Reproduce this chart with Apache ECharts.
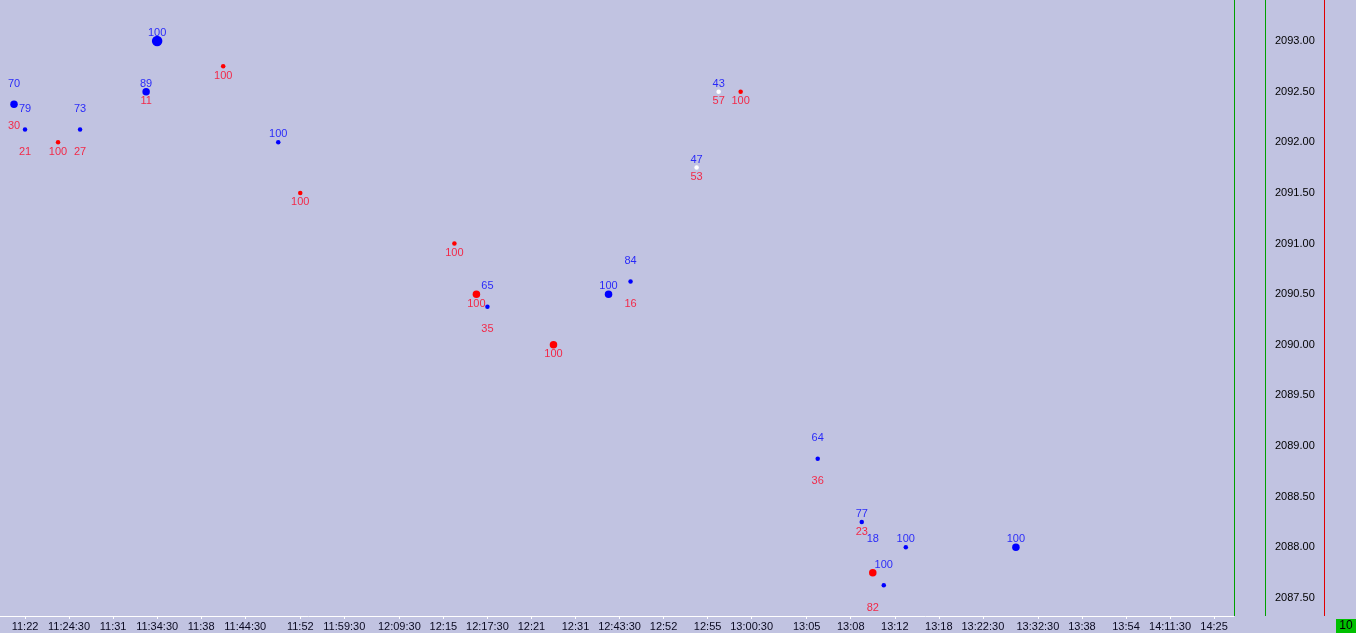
<!DOCTYPE html>
<html lang="en">
<head>
    <meta charset="UTF-8">
    <title>footprint_scatter</title>
    <style>
        html, body { margin: 0; padding: 0; background: #c1c3e1; }
        #main { width: 1356px; height: 633px; }
    </style>
</head>
<body>
    <div id="main"></div>
</body>
<script src="https://cdn.jsdelivr.net/npm/echarts@6/dist/echarts.min.js"></script>
<script>
    // x axis: slot index -> time label
    var tickIdx = [1, 5, 9, 13, 17, 21, 26, 30, 35, 39, 43, 47, 51, 55, 59, 63, 67, 72, 76, 80, 84, 88, 93, 97, 101, 105, 109]
    var tickLabels = ['11:22', '11:24:30', '11:31', '11:34:30', '11:38', '11:44:30', '11:52', '11:59:30', '12:09:30', '12:15',
        '12:17:30', '12:21', '12:31', '12:43:30', '12:52', '12:55', '13:00:30', '13:05', '13:08', '13:12', '13:18',
        '13:22:30', '13:32:30', '13:38', '13:54', '14:11:30', '14:25']
    var yTicks = [2087.5, 2088, 2088.5, 2089, 2089.5, 2090, 2090.5, 2091, 2091.5, 2092, 2092.5, 2093]

    // trades
    var slot = [0, 1, 4, 6, 12, 13, 19, 24, 26, 40, 42, 43, 49, 54, 56, 62, 64, 66, 73, 77, 78, 79, 81, 91]
    var price = [2092.375, 2092.125, 2092.0, 2092.125, 2092.5, 2093.0, 2092.75, 2092.0, 2091.5, 2091.0, 2090.5, 2090.375,
        2090.0, 2090.5, 2090.625, 2091.75, 2092.5, 2092.5, 2088.875, 2088.25, 2087.75, 2087.625, 2088.0, 2088.0]
    var high = [2092.5, 2092.25, 2092.0, 2092.25, 2092.5, 2093.0, 2092.75, 2092.0, 2091.5, 2091.0, 2090.5, 2090.5,
        2090.0, 2090.5, 2090.75, 2091.75, 2092.5, 2092.5, 2089.0, 2088.25, 2088.0, 2087.75, 2088.0, 2088.0]
    var low = [2092.25, 2092.0, 2092.0, 2092.0, 2092.5, 2093.0, 2092.75, 2092.0, 2091.5, 2091.0, 2090.5, 2090.25,
        2090.0, 2090.5, 2090.5, 2091.75, 2092.5, 2092.5, 2088.75, 2088.25, 2087.5, 2087.625, 2088.0, 2088.0]
    var buyPct = [70, 79, 0, 73, 89, 100, 0, 100, 0, 0, 0, 65, 0, 100, 84, 47, 43, 0, 64, 77, 18, 100, 100, 100]
    var sellPct = [30, 21, 100, 27, 11, 0, 100, 0, 100, 100, 100, 35, 100, 0, 16, 53, 57, 100, 36, 23, 82, 0, 0, 0]
    var vol = [4, 1, 1, 1, 4, 9, 1, 1, 1, 1, 4, 1, 4, 4, 1, 1, 1, 1, 1, 1, 4, 1, 1, 4]

    var BLUE = '#0000ff', RED = '#ff0000'
    var FONT = 'Liberation Sans, Arial, sans-serif'

    var dots = [], buyText = [], sellText = []
    for (var i = 0; i < slot.length; i++) {
        var c = buyPct[i] >= 60 ? BLUE : (sellPct[i] >= 60 ? RED : '#ffffff')
        dots.push({value: [slot[i], price[i]], symbolSize: 1.5 + 3 * Math.sqrt(vol[i]), itemStyle: {color: c, opacity: 1}})
        if (buyPct[i] > 0) buyText.push([slot[i], high[i], buyPct[i]])
        if (sellPct[i] > 0) sellText.push([slot[i], low[i], sellPct[i]])
    }

    var main = echarts.init(document.getElementById('main'))
    var vline = function (x, color) {
        return {type: 'line', silent: true, shape: {x1: x, y1: 0, x2: x, y2: 616}, style: {stroke: color, lineWidth: 1}}
    }
    var option = {
        backgroundColor: '#c1c3e1',
        animation: false,
        grid: {left: 0, top: 0, width: 1234, height: 616},
        xAxis: {
            type: 'value',
            min: -1.272,
            max: 110.81,
            splitLine: {show: false},
            axisLine: {show: true, lineStyle: {color: '#ffffff', width: 1}},
            axisTick: {show: true, customValues: tickIdx, length: 3, lineStyle: {color: '#ffffff'}},
            axisLabel: {
                customValues: tickIdx,
                margin: 5,
                color: '#0a0a20',
                fontFamily: FONT,
                fontSize: 11,
                formatter: function (v) {
                    var k = tickIdx.indexOf(Math.round(v))
                    return k >= 0 ? tickLabels[k] : ''
                }
            }
        },
        yAxis: {
            type: 'value',
            position: 'right',
            min: 2087.322,
            max: 2093.405,
            splitLine: {show: false},
            axisLine: {show: false},
            axisTick: {show: false},
            axisLabel: {
                customValues: yTicks,
                margin: 41,
                color: '#000000',
                fontFamily: FONT,
                fontSize: 11,
                formatter: function (v) { return v.toFixed(2) }
            }
        },
        series: [
            {
                type: 'scatter',
                symbol: 'circle',
                data: dots,
                itemStyle: {opacity: 1},
                z: 3
            },
            {
                type: 'scatter',
                symbolSize: 0,
                data: buyText,
                label: {
                    show: true,
                    position: 'inside',
                    offset: [0, -8],
                    color: '#0000ff',
                    fontFamily: FONT,
                    fontSize: 11,
                    formatter: function (p) { return p.value[2] }
                },
                z: 4
            },
            {
                type: 'scatter',
                symbolSize: 0,
                data: sellText,
                label: {
                    show: true,
                    position: 'inside',
                    offset: [0, 9.5],
                    color: '#ff0020',
                    fontFamily: FONT,
                    fontSize: 11,
                    formatter: function (p) { return p.value[2] }
                },
                z: 4
            }
        ],
        graphic: [
            vline(1234.5, '#00a000'),
            vline(1265.5, '#00a000'),
            vline(1324.5, '#e00000'),
            {
                type: 'rect',
                shape: {x: 1336, y: 619, width: 20, height: 14},
                style: {fill: '#00c000'}
            },
            {
                type: 'text',
                x: 1346,
                y: 626,
                style: {text: '10', fill: '#000000', font: '12px Liberation Sans, Arial', align: 'center', verticalAlign: 'middle'}
            }
        ]
    }
    main.setOption(option)
</script>
</html>
